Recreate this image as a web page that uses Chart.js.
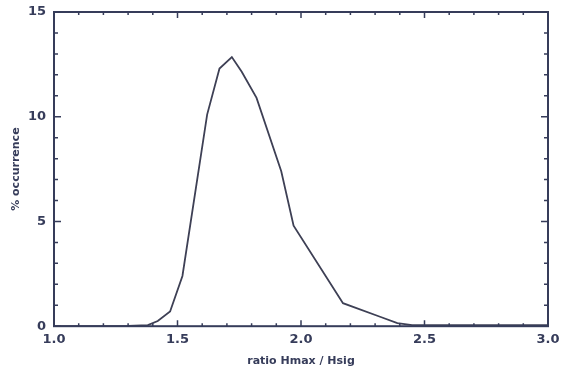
<!DOCTYPE html>
<html>
<head>
<meta charset="utf-8">
<script src="https://cdn.jsdelivr.net/npm/chart.js@4.4.1/dist/chart.umd.min.js"></script>
<style>
  html, body { margin: 0; padding: 0; background: #fff; }
  #wrap { width: 563px; height: 372px; }
</style>
</head>
<body>
<div id="wrap"><canvas id="cv"></canvas></div>
<script>
// distribution of Hmax/Hsig ratio
const ratio = [1.0, 1.3, 1.38, 1.42, 1.47, 1.52, 1.62, 1.67, 1.72, 1.76, 1.82, 1.92, 1.97, 2.17, 2.32, 2.39, 2.45, 3.0];
const occurrence = [0, 0.02, 0.05, 0.25, 0.7, 2.4, 10.1, 12.3, 12.85, 12.15, 10.9, 7.4, 4.8, 1.1, 0.45, 0.15, 0.05, 0.05];

const xMajor = [1.0, 1.5, 2.0, 2.5, 3.0];
const yMajor = [0, 5, 10, 15];
const xMinor = [1.1, 1.2, 1.3, 1.4, 1.6, 1.7, 1.8, 1.9, 2.1, 2.2, 2.3, 2.4, 2.6, 2.7, 2.8, 2.9];
const yMinor = [1, 2, 3, 4, 6, 7, 8, 9, 11, 12, 13, 14];

const ink = "#363c5a";

// frame with inward ticks on all four sides
const framePlugin = {
  id: "frame",
  afterDatasetsDraw(chart) {
    const { ctx, chartArea: a, scales: { x, y } } = chart;
    ctx.save();
    ctx.strokeStyle = ink;
    ctx.lineWidth = 2;
    ctx.strokeRect(a.left, a.top, a.right - a.left, a.bottom - a.top);
    ctx.lineWidth = 1.5;
    const tick = (vals, len, isX) => {
      vals.forEach(v => {
        ctx.beginPath();
        if (isX) {
          const px = x.getPixelForValue(v);
          ctx.moveTo(px, a.bottom); ctx.lineTo(px, a.bottom - len);
          ctx.moveTo(px, a.top); ctx.lineTo(px, a.top + len);
        } else {
          const py = y.getPixelForValue(v);
          ctx.moveTo(a.left, py); ctx.lineTo(a.left + len, py);
          ctx.moveTo(a.right, py); ctx.lineTo(a.right - len, py);
        }
        ctx.stroke();
      });
    };
    tick(xMajor, 6, true);
    tick(xMinor, 3, true);
    tick(yMajor, 7, false);
    tick(yMinor, 4, false);
    ctx.restore();
  }
};

new Chart(document.getElementById("cv"), {
  type: "scatter",
  data: {
    datasets: [{
      data: ratio.map((r, i) => ({ x: r, y: occurrence[i] })),
      showLine: true,
      borderColor: "#3e4055",
      borderWidth: 1.8,
      pointRadius: 0,
      tension: 0
    }]
  },
  options: {
    responsive: true,
    maintainAspectRatio: false,
    animation: false,
    layout: { padding: { left: 10, right: 15, top: 12, bottom: 4 } },
    plugins: { legend: { display: false }, tooltip: { enabled: false } },
    scales: {
      x: {
        type: "linear",
        min: 1, max: 3,
        afterBuildTicks: s => { s.ticks = xMajor.map(v => ({ value: v })); },
        afterFit: s => { s.paddingLeft = 0; s.paddingRight = 0; },
        grid: { display: false, drawTicks: false },
        border: { display: false },
        ticks: {
          padding: 6,
          color: ink,
          font: { family: "DejaVu Sans", size: 13, weight: "bold" },
          maxRotation: 0,
          callback: v => v.toFixed(1)
        },
        title: {
          display: true,
          text: "ratio Hmax / Hsig",
          color: ink,
          padding: { top: 1, bottom: 0 },
          font: { family: "DejaVu Sans", size: 11, weight: "bold" }
        }
      },
      y: {
        min: 0, max: 15,
        afterBuildTicks: s => { s.ticks = yMajor.map(v => ({ value: v })); },
        grid: { display: false, drawTicks: false },
        border: { display: false },
        ticks: {
          padding: 8,
          color: ink,
          font: { family: "DejaVu Sans", size: 13, weight: "bold" }
        },
        title: {
          display: true,
          text: "% occurrence",
          color: ink,
          padding: { top: 0, bottom: 6 },
          font: { family: "DejaVu Sans", size: 11, weight: "bold" }
        },
        afterFit: s => { s.width = 44; s.paddingTop = 0; s.paddingBottom = 0; }
      }
    }
  },
  plugins: [framePlugin]
});
</script>
</body>
</html>
